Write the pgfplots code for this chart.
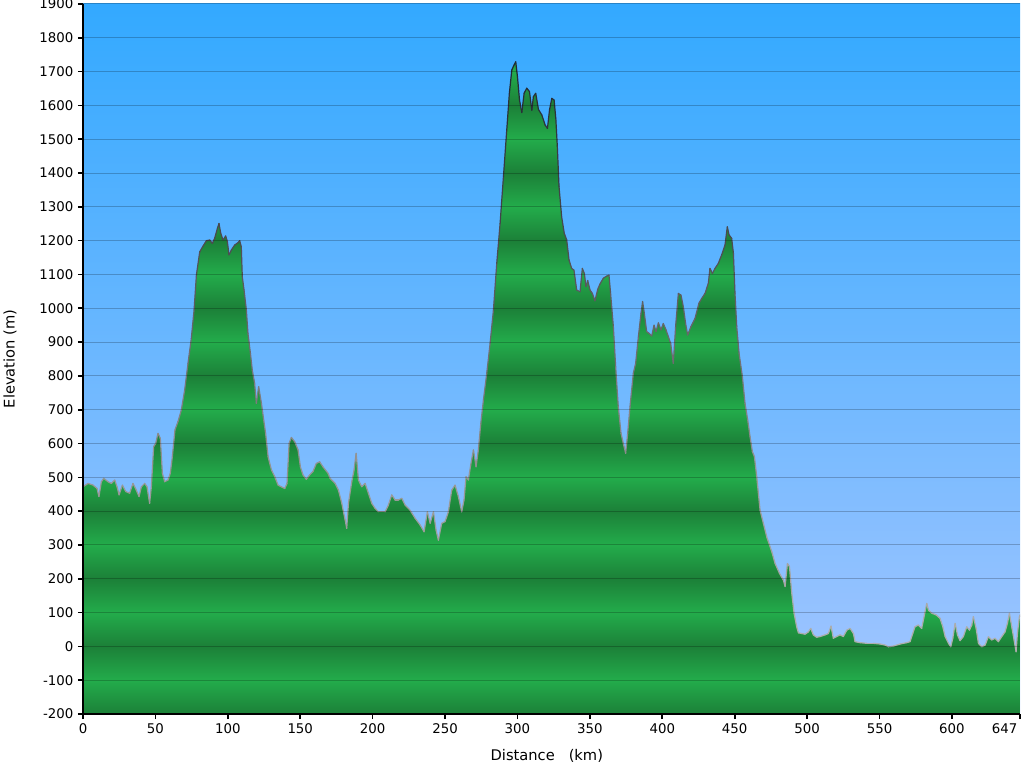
\documentclass[border=0pt]{standalone}
\usepackage{fontspec}
\setmainfont{DejaVu Sans}
\usepackage{pgfplots}
\pgfplotsset{compat=1.18}
\usepackage{pgfplotstable}

\definecolor{skytop}{RGB}{51,169,255}
\definecolor{skybot}{RGB}{165,198,255}
\definecolor{gdark}{RGB}{28,128,56}
\definecolor{glight}{RGB}{35,172,75}

% green bands, dark on even hundreds, light on odd hundreds
% (path bbox runs -200..1900, mapped on 25bp..75bp)
\pgfdeclareverticalshading{bands}{100bp}{color(0bp)=(gdark); color(25bp)=(gdark);
 color(27.381bp)=(glight); color(29.762bp)=(gdark); color(32.143bp)=(glight);
 color(34.524bp)=(gdark); color(36.905bp)=(glight); color(39.286bp)=(gdark);
 color(41.667bp)=(glight); color(44.048bp)=(gdark); color(46.429bp)=(glight);
 color(48.810bp)=(gdark); color(51.190bp)=(glight); color(53.571bp)=(gdark);
 color(55.952bp)=(glight); color(58.333bp)=(gdark); color(60.714bp)=(glight);
 color(63.095bp)=(gdark); color(65.476bp)=(glight); color(67.857bp)=(gdark);
 color(70.238bp)=(glight); color(72.619bp)=(gdark); color(75bp)=(glight);
 color(100bp)=(glight)}

\pgfplotstableread{
d e
0 472
3.5 482
6.9 477
9.7 467
11 443
12.7 487
14.3 497
17.3 487
19.6 482
21.9 492
23.5 472
24.9 448
27.2 477
29.5 458
32.2 453
34.5 482
36.8 462
38.7 443
40.3 472
42.6 482
44.2 472
46 423
47.2 472
48.8 591
50.2 600
51.8 630
53.4 615
54.8 512
56.4 487
58.7 492
60.3 512
61.7 561
63.5 640
65.6 665
67.9 699
70.2 758
72.5 837
74.8 911
76.7 995
78.3 1098
80.6 1167
82.9 1184
85.2 1200
87.5 1202
89.3 1192
90.9 1207
92.8 1236
93.9 1251
95.1 1222
96.7 1202
98.5 1214
99.7 1197
100.8 1158
102.4 1172
104.7 1187
107 1194
108.2 1200
109.3 1182
110 1093
111.2 1054
112.8 995
113.9 926
115.6 867
116.9 817
118.5 778
119.7 719
121.3 768
123.2 719
124.8 669
126.1 630
127.8 561
130.1 522
132.4 502
134.7 477
137 472
139.3 467
140.9 482
142.3 600
143.9 618
146.2 605
148.5 581
150.1 531
151.9 507
154.2 494
156.5 507
158.8 517
161.1 541
163.4 546
165.7 531
169.2 512
170.6 497
174.1 482
176.4 462
178.7 423
181 374
182.1 349
183.3 423
185.6 487
187.2 522
188.6 571
190.2 492
192.5 472
194.8 482
197.1 453
199.4 423
201.7 408
204 398
208.6 398
210.9 418
213.2 448
215.5 433
217.8 433
220.1 438
222.4 418
225.8 403
229.3 379
232.8 359
235.5 339
237.8 398
239.7 364
242 398
243.8 344
245.4 314
247.7 364
250 369
252.3 398
254.6 462
256.9 477
259.2 443
261.5 398
263.1 433
264.5 502
266.1 492
267.7 536
269.6 581
271.4 531
273 581
274.7 660
276.5 729
278.8 808
281.1 896
283.4 995
285.7 1133
288 1251
290.3 1389
292.6 1527
294.4 1636
296.1 1705
297.7 1720
298.8 1729
300 1685
301.4 1616
303 1579
304.6 1636
306.4 1651
308.3 1641
309.9 1586
311 1626
312.6 1636
314.5 1588
316.8 1572
319.1 1542
320.7 1532
322.1 1586
323.7 1621
325.3 1616
326.5 1560
327.5 1480
328.7 1360
330.5 1271
332.3 1222
334 1202
335.6 1143
337.4 1118
339 1113
340.9 1054
343.2 1049
344.8 1118
346.2 1103
347.3 1064
348.5 1082
350.1 1054
351.7 1044
353.5 1022
355.4 1056
357 1072
359.3 1089
361.6 1095
363.2 1098
364.3 1044
366.2 946
367.8 827
369.6 709
371.5 630
373.1 600
374.7 571
376.1 630
377.7 709
380 808
381.6 837
383.5 916
385.3 985
386.4 1020
387.6 985
389.2 931
390.8 926
392.7 918
394.3 950
395.7 931
397.3 957
399.1 936
400.7 955
402.6 936
404.2 916
405.8 896
407.6 837
409.2 946
411.1 1044
412.9 1039
414.5 1005
416.1 955
417.5 921
419.8 946
422.6 970
425.3 1015
427.2 1029
429.5 1044
431.8 1074
432.9 1118
434.6 1103
436.4 1118
438.7 1133
441 1158
443.3 1187
444.9 1241
446.1 1217
447.9 1207
449.1 1163
450.2 1044
451.4 946
453 867
455.3 798
457.1 719
459 669
460.6 620
462.2 576
463.6 561
465.2 502
467.5 403
469.8 364
472.1 324
475.6 280
477.9 245
480.9 216
483.6 196
484.8 177
486.4 245
487.8 236
489.4 157
491 98
492.8 58
494 40
496.3 38
498.6 36
500.9 43
502.5 53
504.3 34
506.6 27
508.9 29
512.4 34
514.7 38
516.5 60
518.1 24
520.4 29
522.7 34
525 29
527.4 48
529.7 53
532 38
533.1 14
536.6 11
541.2 9
545.8 9
550.4 7
553.8 4
556.1 -1
559.6 1
564.2 7
568.8 11
571.1 14
572.9 38
574.5 58
576.8 63
579.1 53
581 93
582.6 127
583.8 107
586.1 98
589.1 93
591.8 83
593.7 58
595.3 29
597.6 9
599.2 -1
600.6 24
602.2 68
603.8 34
605.6 17
607.9 29
610.2 58
612.1 48
613.7 63
614.8 88
616.7 53
618.3 9
620.6 -1
622.9 4
625.2 29
627.5 19
629.8 24
632.1 14
634.4 29
636.7 43
638.3 68
639.7 98
641.3 58
642.9 19
644.3 -16
645.2 38
646.6 88
647 93
}\prof

\begin{document}
\begin{tikzpicture}
\useasboundingbox (-62.25pt,-40.5pt) rectangle (705.75pt,535.5pt);
\begin{axis}[
    at={(0,0)}, anchor=south west,
    scale only axis,
    width=702.75pt, height=532.5pt,
    xmin=0, xmax=647,
    ymin=-200, ymax=1900,
    xtick={0,50,...,600},
    extra x ticks={647},
    extra x tick style={xticklabel style={anchor=north east, xshift=1.5pt}},
    ytick={-200,-100,...,1900},
    axis x line*=bottom, axis y line*=left,
    axis line style={-, black, line width=1.5pt},
    tick align=outside,
    major tick length=3.75pt,
    tick style={black, line width=1.2pt},
    ymajorgrids,
    major grid style={black, opacity=0.22, line width=0.75pt},
    axis on top,
    axis background/.style={top color=skytop, bottom color=skybot},
    ticklabel style={font=\fontsize{10}{12}\selectfont},
    /pgf/number format/assume math mode=true,
    /pgf/number format/1000 sep={},
    xlabel={Distance~~~(km)},
    ylabel={Elevation (m)},
    every axis x label/.style={at={(axis description cs:0.495,-0.059)}, anchor=center,
        font=\fontsize{11}{13}\selectfont},
    every axis y label/.style={at={(axis description cs:-0.0779,0.5)}, anchor=center, rotate=90,
        font=\fontsize{11}{13}\selectfont},
    colormap={outl}{rgb255(0cm)=(175,175,175) rgb255(5cm)=(150,150,150) rgb255(12cm)=(75,75,80) rgb255(18cm)=(25,35,45)},
]
\addplot [draw=none, shade, shading=bands] table [x=d, y=e] {\prof}
    -- (axis cs:647,-200) -- (axis cs:0,-200) -- cycle (axis cs:0,1900);
\addplot [mesh, point meta=\thisrow{e}, point meta min=0, point meta max=1800,
    line width=0.9pt, line cap=round, line join=round] table [x=d, y=e] {\prof};
\end{axis}
\end{tikzpicture}
\end{document}
